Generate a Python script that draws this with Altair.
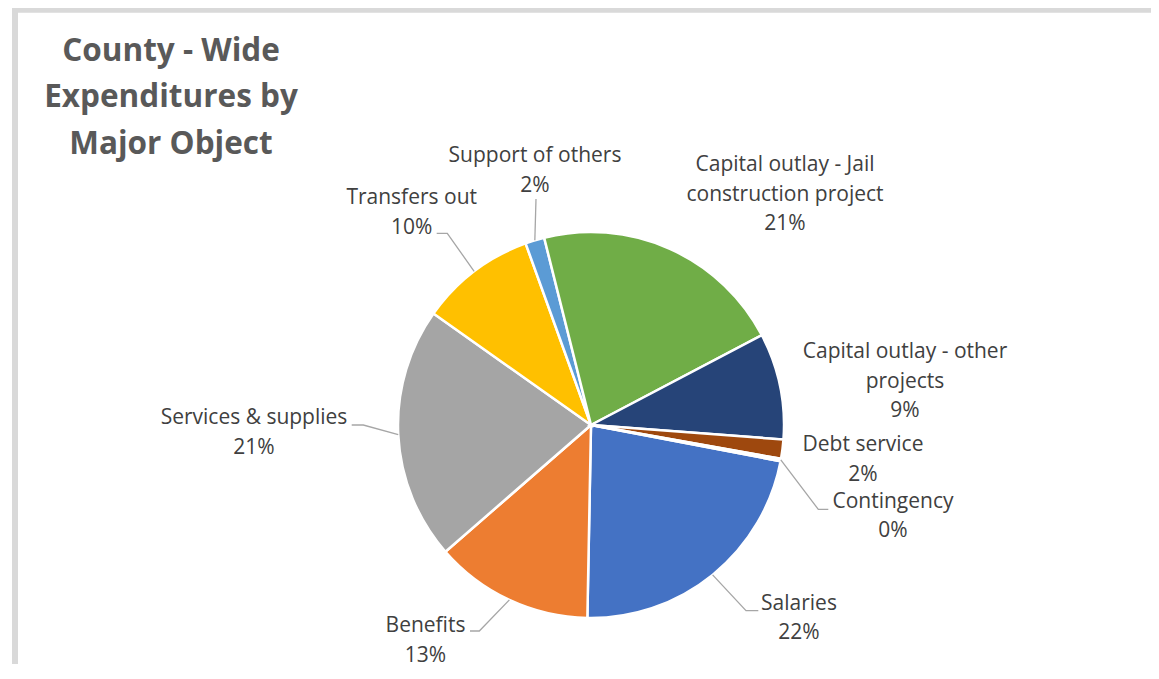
import math
import altair as alt
import pandas as pd

# ---- data ----
categories = [
    "Salaries",
    "Benefits",
    "Services & supplies",
    "Transfers out",
    "Support of others",
    "Capital outlay - Jail construction project",
    "Capital outlay - other projects",
    "Debt service",
    "Contingency",
]
shares = [22.3, 13.3, 21.2, 9.7, 1.6, 21.2, 8.9, 1.6, 0.2]
label_names = [
    "Salaries",
    "Benefits",
    "Services & supplies",
    "Transfers out",
    "Support of others",
    "Capital outlay - Jail\nconstruction project",
    "Capital outlay - other\nprojects",
    "Debt service",
    "Contingency",
]
colors = ["#4472C4", "#ED7D31", "#A5A5A5", "#FFC000", "#5B9BD5",
          "#70AD47", "#264478", "#9E480E", "#636363"]
title_lines = ["County - Wide", "Expenditures by", "Major Object"]

# ---- layout (view pixel coordinates) ----
W, H = 1143, 656
CX, CY, R = 583, 417, 193
START_DEG = 100.8
label_pos = {  # centre x, first-line y
    "Salaries": (791, 595.5),
    "Benefits": (417.5, 618),
    "Services & supplies": (246, 410.3),
    "Transfers out": (403.7, 190.3),
    "Support of others": (527, 148),
    "Capital outlay - Jail construction project": (777, 157),
    "Capital outlay - other projects": (897, 344),
    "Debt service": (855, 437),
    "Contingency": (885, 493.7),
}
leader = {  # elbow, end of leader line
    "Salaries": [(738, 602.7), (750.3, 602.7)],
    "Benefits": [(471.3, 623), (462, 623)],
    "Services & supplies": [(355.3, 417), (343.7, 417)],
    "Transfers out": [(439.3, 225.3), (428.7, 225.3)],
    "Support of others": [(528, 191)],
    "Contingency": [(810.3, 501.3), (820.3, 501.3)],
}

total = sum(shares)
df = pd.DataFrame({
    "category": categories,
    "share": shares,
    "idx": list(range(len(categories))),
})

lab_rows = []
line_rows = []
cum = 0.0
for i, (c, v) in enumerate(zip(categories, shares)):
    mid = math.radians(START_DEG + (cum + v / 2) / total * 360)
    cum += v
    lx, ly = label_pos[c]
    lab_rows.append({"x": lx, "y": ly,
                     "text": f"{label_names[i]}\n{round(v)}%"})
    if c in leader:
        pts = [(CX + R * math.sin(mid), CY - R * math.cos(mid))] + leader[c]
        for k, (px, py) in enumerate(pts):
            line_rows.append({"cat": c, "k": k, "x": px, "y": py})
lab_df = pd.DataFrame(lab_rows)
line_df = pd.DataFrame(line_rows)

a0 = math.radians(START_DEG)
pie = alt.Chart(df).mark_arc(stroke="white", strokeWidth=2.5).encode(
    theta=alt.Theta("share:Q", stack=True,
                    scale=alt.Scale(range=[a0, a0 + 2 * math.pi])),
    color=alt.Color("category:N", sort=categories,
                    scale=alt.Scale(domain=categories, range=colors),
                    legend=None),
    order=alt.Order("idx:Q"),
    x=alt.value(CX),
    y=alt.value(CY),
    radius=alt.value(R),
)

lines = alt.Chart(line_df).mark_line(color="#A6A6A6", strokeWidth=1.3).encode(
    x=alt.X("x:Q", scale=None, axis=None),
    y=alt.Y("y:Q", scale=None, axis=None),
    detail="cat:N",
    order="k:Q",
)

labels = alt.Chart(lab_df).mark_text(
    font="Open Sans", fontSize=21, color="#404040", align="center",
    baseline="middle", lineBreak="\n", lineHeight=29.5,
).encode(
    x=alt.X("x:Q", scale=None, axis=None),
    y=alt.Y("y:Q", scale=None, axis=None),
    text="text:N",
)

title_df = pd.DataFrame({"x": [163], "y": [43.7], "text": ["\n".join(title_lines)]})
title = alt.Chart(title_df).mark_text(
    font="Open Sans", fontSize=31.5, fontWeight="bold", color="#595959",
    align="center", baseline="middle", lineBreak="\n", lineHeight=46.5,
).encode(
    x=alt.X("x:Q", scale=None, axis=None),
    y=alt.Y("y:Q", scale=None, axis=None),
    text="text:N",
)

frame_df = pd.DataFrame({"x": [4, 4], "x2": [W, 10],
                         "y": [0, 0], "y2": [4.7, H]})
frame = alt.Chart(frame_df).mark_rect(color="#D9D9D9").encode(
    x=alt.X("x:Q", scale=None, axis=None),
    x2="x2:Q",
    y=alt.Y("y:Q", scale=None, axis=None),
    y2="y2:Q",
)

chart = alt.layer(frame, pie, lines, labels, title).properties(
    width=W, height=H,
    autosize=alt.AutoSizeParams(type="none"),
    padding=0,
).configure_view(stroke=None)

chart.save("out.html", embed_options={"renderer": "svg", "actions": False})
